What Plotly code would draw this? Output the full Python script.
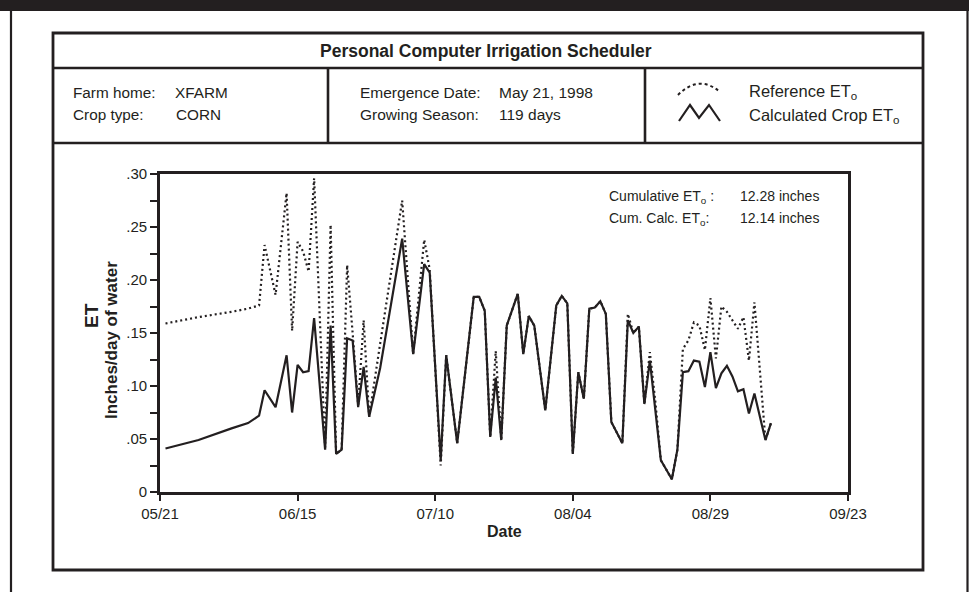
import plotly.graph_objects as go

# ---------------- data ----------------
dates = [
    "1998-05-22", "1998-05-28", "1998-06-03", "1998-06-06", "1998-06-08", "1998-06-09",
    "1998-06-11", "1998-06-13", "1998-06-14", "1998-06-15", "1998-06-16", "1998-06-17",
    "1998-06-18", "1998-06-20", "1998-06-21", "1998-06-22", "1998-06-23", "1998-06-24",
    "1998-06-25", "1998-06-26", "1998-06-27", "1998-06-28", "1998-06-30", "1998-07-04",
    "1998-07-06", "1998-07-08", "1998-07-09", "1998-07-11", "1998-07-12", "1998-07-14",
    "1998-07-17", "1998-07-18", "1998-07-19", "1998-07-20", "1998-07-21", "1998-07-22",
    "1998-07-23", "1998-07-25", "1998-07-26", "1998-07-27", "1998-07-28", "1998-07-30",
    "1998-08-01", "1998-08-02", "1998-08-03", "1998-08-04", "1998-08-05", "1998-08-06",
    "1998-08-07", "1998-08-08", "1998-08-09", "1998-08-10", "1998-08-11", "1998-08-13",
    "1998-08-14", "1998-08-15", "1998-08-16", "1998-08-17", "1998-08-18", "1998-08-19",
    "1998-08-20", "1998-08-22", "1998-08-23", "1998-08-24", "1998-08-25", "1998-08-26",
    "1998-08-27", "1998-08-28", "1998-08-29", "1998-08-30", "1998-08-31", "1998-09-01",
    "1998-09-02", "1998-09-03", "1998-09-04", "1998-09-05", "1998-09-06", "1998-09-08",
    "1998-09-09",
]

reference_et = [
    0.159, 0.165, 0.170, 0.173, 0.176, 0.233,
    0.186, 0.282, 0.152, 0.236, 0.227, 0.208,
    0.296, 0.042, 0.252, 0.036, 0.040, 0.214,
    0.150, 0.082, 0.162, 0.071, 0.140, 0.275,
    0.130, 0.238, 0.210, 0.025, 0.129, 0.046,
    0.184, 0.184, 0.171, 0.052, 0.133, 0.049,
    0.157, 0.187, 0.130, 0.166, 0.157, 0.077,
    0.176, 0.185, 0.178, 0.036, 0.113, 0.088,
    0.173, 0.174, 0.180, 0.168, 0.066, 0.046,
    0.168, 0.150, 0.156, 0.083, 0.132, 0.085,
    0.030, 0.012, 0.040, 0.135, 0.143, 0.160,
    0.157, 0.134, 0.183, 0.126, 0.175, 0.170,
    0.162, 0.154, 0.165, 0.124, 0.179, 0.049,
    0.065,
]

calculated_et = [
    0.041, 0.049, 0.060, 0.065, 0.072, 0.096,
    0.080, 0.129, 0.075, 0.120, 0.113, 0.114,
    0.164, 0.040, 0.157, 0.036, 0.040, 0.145,
    0.143, 0.080, 0.118, 0.071, 0.117, 0.239,
    0.130, 0.215, 0.207, 0.030, 0.129, 0.046,
    0.184, 0.184, 0.171, 0.052, 0.108, 0.049,
    0.157, 0.187, 0.130, 0.166, 0.157, 0.077,
    0.176, 0.185, 0.178, 0.036, 0.113, 0.088,
    0.173, 0.174, 0.180, 0.168, 0.066, 0.046,
    0.162, 0.150, 0.156, 0.083, 0.124, 0.080,
    0.030, 0.012, 0.040, 0.113, 0.114, 0.124,
    0.123, 0.099, 0.132, 0.098, 0.112, 0.119,
    0.109, 0.095, 0.097, 0.074, 0.093, 0.049,
    0.065,
]

y_tick_values = [0, 0.05, 0.10, 0.15, 0.20, 0.25, 0.30]
y_tick_labels = ["0", ".05", ".10", ".15", ".20", ".25", ".30"]

title_text = "Personal Computer Irrigation Scheduler"
farm_home = "XFARM"
crop_type = "CORN"
emergence_date = "May 21, 1998"
growing_season = "119 days"
cumulative_et = "12.28 inches"
cumulative_calc_et = "12.14 inches"

# ---------------- layout helpers ----------------
W, H = 969, 592
ML, MR, MT, MB = 160, 121, 174, 100
PW = W - ML - MR
PH = H - MT - MB
INK = "#231f20"
FONT = "Liberation Sans, Arial, Helvetica, sans-serif"


def px(x):
    return (x - ML) / PW


def py(y):
    return 1 - (y - MT) / PH


def hline(x0, x1, y, w=2.6):
    return dict(type="line", xref="paper", yref="paper", x0=px(x0), x1=px(x1),
                y0=py(y), y1=py(y), line=dict(color=INK, width=w), layer="above")


def vline(x, y0, y1, w=2.6):
    return dict(type="line", xref="paper", yref="paper", x0=px(x), x1=px(x),
                y0=py(y0), y1=py(y1), line=dict(color=INK, width=w), layer="above")


def text(x, y, s, size=15, anchor="left", bold=False, angle=0):
    if bold:
        s = "<b>" + s + "</b>"
    return dict(x=px(x), y=py(y), xref="paper", yref="paper", text=s,
                showarrow=False, xanchor=anchor, yanchor="middle", textangle=angle,
                font=dict(family=FONT, size=size, color=INK))


fig = go.Figure()

fig.add_trace(go.Scatter(
    x=dates, y=reference_et, mode="lines", name="Reference ETo",
    line=dict(color=INK, width=2.2, dash="2px,3px"), showlegend=False,
))
fig.add_trace(go.Scatter(
    x=dates, y=calculated_et, mode="lines", name="Calculated Crop ETo",
    line=dict(color=INK, width=2.2), showlegend=False,
))

shapes = [
    # black top band
    dict(type="rect", xref="paper", yref="paper", x0=px(0), x1=px(W), y0=py(0), y1=py(11),
         fillcolor=INK, line=dict(width=0), layer="above"),
    vline(11, 11, H, 2.2),
    vline(967.5, 11, H, 2.2),
    # inner box
    dict(type="rect", xref="paper", yref="paper", x0=px(53), x1=px(923), y0=py(33), y1=py(570),
         line=dict(color=INK, width=2.8), layer="above"),
    hline(53, 923, 68),
    hline(53, 923, 143),
    vline(328, 68, 143),
    vline(645, 68, 143),
    # legend icons
    dict(type="path", xref="paper", yref="paper",
         path="M %f,%f Q %f,%f %f,%f" % (px(678), py(95), px(699), py(74), px(720), py(92)),
         line=dict(color=INK, width=2, dash="dot"), layer="above"),
    dict(type="path", xref="paper", yref="paper",
         path="M %f,%f L %f,%f L %f,%f L %f,%f L %f,%f" % (
             px(679), py(121), px(690), py(105), px(699), py(118), px(709), py(105), px(720), py(121)),
         line=dict(color=INK, width=2.2), layer="above"),
]

annotations = [
    text(486, 51, title_text, size=17.5, anchor="center", bold=True),
    text(71, 92, "Farm home:", size=15.3),
    text(173, 92, farm_home, size=15.3),
    text(71, 115, "Crop type:", size=15.3),
    text(174, 115, crop_type, size=15.3),
    text(358, 92, "Emergence Date:", size=15.5),
    text(497, 92, emergence_date, size=15.5),
    text(358, 115, "Growing Season:", size=15.5),
    text(497, 115, growing_season, size=15.5),
    text(747, 92, "Reference ET<sub>o</sub>", size=16.5),
    text(747, 116, "Calculated Crop ET<sub>o</sub>", size=16.5),
    text(607, 197, "Cumulative ET<sub>o</sub> :", size=14),
    text(738, 196, cumulative_et, size=14),
    text(607, 219, "Cum. Calc. ET<sub>o</sub>:", size=14),
    text(738, 218, cumulative_calc_et, size=14),
    text(504, 531, "Date", size=16, anchor="center", bold=True),
    text(91, 316, "ET", size=19, anchor="center", bold=True, angle=-90),
    text(111, 340, "Inches/day of water", size=17, anchor="center", bold=True, angle=-90),
]

fig.update_layout(
    width=W, height=H,
    margin=dict(l=ML, r=MR, t=MT, b=MB, pad=0),
    paper_bgcolor="white", plot_bgcolor="white",
    font=dict(family=FONT, color=INK, size=15),
    shapes=shapes, annotations=annotations,
    showlegend=False,
)

fig.update_xaxes(
    type="date", range=["1998-05-21", "1998-09-23"],
    tick0="1998-05-21", dtick=25 * 86400000, tickformat="%m/%d",
    ticks="outside", ticklen=6, tickwidth=2, tickcolor=INK,
    showline=True, linewidth=2.6, linecolor=INK, mirror=True,
    showgrid=False, zeroline=False,
    tickfont=dict(family=FONT, size=15, color=INK),
)
fig.update_yaxes(
    range=[0, 0.30], tickvals=y_tick_values, ticktext=y_tick_labels,
    ticks="outside", ticklen=7, tickwidth=2, tickcolor=INK,
    minor=dict(dtick=0.025, tick0=0, ticks="outside", ticklen=7, tickwidth=2, tickcolor=INK),
    showline=True, linewidth=2.6, linecolor=INK, mirror=True,
    showgrid=False, zeroline=False,
    tickfont=dict(family=FONT, size=15, color=INK),
)

fig.write_html("out.html", config={"displayModeBar": False},
               post_script="document.body.style.margin='0';")
